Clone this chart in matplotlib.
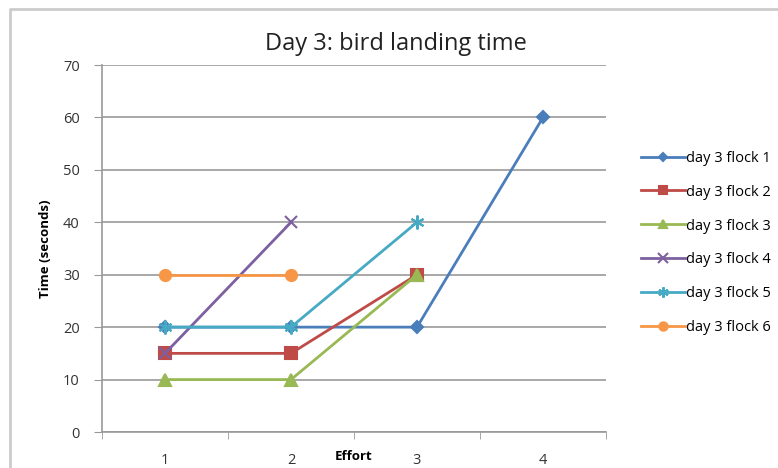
import numpy as np
import matplotlib.pyplot as plt
from matplotlib.lines import Line2D

plt.rcParams['font.family'] = ['Open Sans', 'DejaVu Sans']

efforts = ['1', '2', '3', '4']
flock1 = [20, 20, 20, 60]
flock2 = [15, 15, 30, np.nan]
flock3 = [10, 10, 30, np.nan]
flock4 = [15, 40, np.nan, np.nan]
flock5 = [20, 20, 40, np.nan]
flock6 = [30, 30, np.nan, np.nan]
names = ['day 3 flock 1', 'day 3 flock 2', 'day 3 flock 3',
         'day 3 flock 4', 'day 3 flock 5', 'day 3 flock 6']

colors = ['#4A7EBB', '#BE4B48', '#98B954', '#7D60A0', '#46AAC5', '#F79646']
markers = ['D', 's', '^', 'x', (6, 2, 0), 'o']
msizes = [6, 8, 8, 9, 10, 8]

fig = plt.figure(figsize=(7.78, 4.68), dpi=100)
ax = fig.add_axes([102/778, 1 - 432/468, 504/778, 367/468])

x = np.arange(len(efforts))
series = [flock1, flock2, flock3, flock4, flock5, flock6]
for s, name, c, m, ms in zip(series, names, colors, markers, msizes):
    ax.plot(x, s, color=c, lw=2, marker=m, ms=ms, mew=1.5,
            mec=c, mfc=c, label=name, zorder=3)

ax.set_xlim(-0.5, 3.5)
ax.set_ylim(0, 70)
ax.set_yticks(range(0, 71, 10))
ax.set_xticks(x)
ax.set_xticklabels(efforts)
ax.set_xticks(np.arange(-0.5, 3.6, 1), minor=True)
ax.tick_params(axis='x', which='major', length=0, pad=15, labelsize=10.5, colors='#333333')
ax.tick_params(axis='x', which='minor', length=5, color='#999999', direction='out')
ax.tick_params(axis='y', length=6, color='#999999', pad=10, labelsize=10.5, labelcolor='#333333')
ax.yaxis.grid(True, color='#999999', lw=1.2)
ax.set_axisbelow(True)
for sp in ['top', 'right']:
    ax.spines[sp].set_visible(False)
for sp in ['left', 'bottom']:
    ax.spines[sp].set_color('#999999')
    ax.spines[sp].set_linewidth(1.2)

ax.set_ylabel('Time (seconds)', fontsize=9.5, fontweight='bold', labelpad=8)
fig.text(354/778, 1 - 456/468, 'Effort', fontsize=9.5, fontweight='bold',
         ha='center', va='center')
fig.text(396/778, 1 - 44/468, 'Day 3: bird landing time', fontsize=17,
         ha='center', va='center', color='#222222')

ax.legend(loc='center left', bbox_to_anchor=(628/778, 1 - 243/468),
          bbox_transform=fig.transFigure, frameon=False, fontsize=10.5,
          labelspacing=1.3, handlelength=3.0, handletextpad=0.1,
          markerscale=0.75)

# outer frame of the chart area
fig.add_artist(Line2D([10/778, 10/778, 1], [0, 1 - 9/468, 1 - 9/468],
                      transform=fig.transFigure, color='#cccccc', lw=2))

fig.savefig('out.png', dpi=100, facecolor='white')
